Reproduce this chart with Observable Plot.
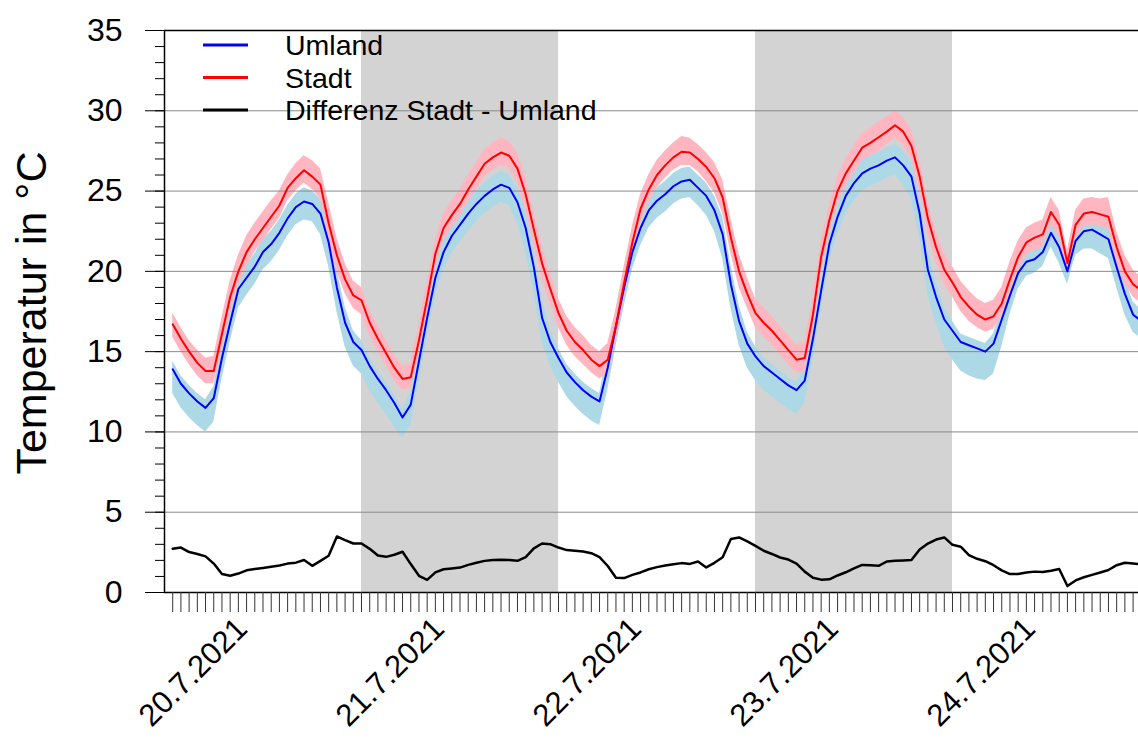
<!DOCTYPE html>
<html><head><meta charset="utf-8">
<script src="https://cdn.jsdelivr.net/npm/d3@7"></script>
<script src="https://cdn.jsdelivr.net/npm/@observablehq/plot@0.6"></script>
<style>
body{margin:0;background:#fff;font-family:"Liberation Sans",Arial,sans-serif;}
#wrap{position:relative;width:1138px;height:741px;overflow:hidden;}
#ylab{position:absolute;left:31px;top:313px;transform:translate(-50%,-50%) rotate(-90deg);font-size:43px;white-space:nowrap;color:#000;}
#legend{position:absolute;left:0;top:0;}
</style></head><body><div id="wrap"></div>
<script>
// time: hourly values starting 20.7.2021 01:00 (UTC used as local clock)
const startTime = Date.UTC(2021, 6, 20, 0);
const firstHour = 1;
const domainEndHours = 118.66;

const umland = [13.9,13.0,12.4,11.9,11.5,12.1,14.6,16.8,18.9,19.6,
 20.3,21.2,21.7,22.4,23.3,24.0,24.35,24.2,23.6,21.8,
 19.0,16.8,15.6,15.1,14.1,13.3,12.6,11.8,10.9,11.7,
 14.4,17.1,19.6,21.2,22.2,22.9,23.6,24.2,24.7,25.1,
 25.4,25.2,24.3,22.7,20.25,17.1,15.6,14.6,13.7,13.1,
 12.6,12.2,11.9,14.0,16.6,19.0,21.2,22.7,23.8,24.4,
 24.8,25.3,25.6,25.7,25.2,24.7,23.8,22.3,19.2,16.9,
 15.5,14.7,14.1,13.7,13.3,12.9,12.6,13.2,15.8,18.8,
 21.7,23.4,24.7,25.5,26.1,26.4,26.6,26.9,27.1,26.6,
 25.9,23.6,20.1,18.4,17.0,16.3,15.6,15.4,15.2,15.0,
 15.5,17.0,18.5,19.9,20.6,20.75,21.2,22.4,21.5,20.0,
 21.9,22.5,22.6,22.3,22.0,20.25,18.6,17.3,16.9];
const umlandLo = [12.4,11.5,10.9,10.4,10.0,10.6,13.3,15.6,17.7,18.5,
 19.2,20.1,20.6,21.3,22.2,22.9,23.2,23.1,22.3,20.3,
 17.5,15.3,14.1,13.6,12.6,11.8,11.1,10.3,9.6,10.4,
 13.1,15.9,18.5,20.1,21.1,21.8,22.5,23.1,23.6,24.0,
 24.3,24.1,23.0,21.2,18.7,15.6,14.1,13.1,12.2,11.6,
 11.1,10.7,10.4,12.6,15.3,17.8,20.1,21.6,22.7,23.3,
 23.7,24.2,24.5,24.6,24.1,23.5,22.5,20.8,17.7,15.4,
 14.0,13.2,12.6,12.2,11.8,11.4,11.1,11.8,14.5,17.6,
 20.6,22.3,23.6,24.4,25.0,25.3,25.5,25.8,26.0,25.4,
 24.5,22.1,18.5,16.8,15.3,14.5,13.8,13.5,13.3,13.2,
 13.6,15.3,17.3,18.9,19.7,19.9,20.3,21.5,20.5,19.2,
 21.0,21.4,21.4,21.1,20.8,19.0,17.3,16.2,15.8];
const umlandHi = [14.4,13.5,12.9,12.4,12.0,12.8,15.6,17.8,19.8,20.4,
 21.1,22.0,22.5,23.2,24.1,24.8,25.2,25.0,24.5,22.9,
 20.1,17.8,16.3,15.7,14.6,13.8,13.1,12.3,11.4,12.5,
 15.4,18.1,20.5,22.0,23.0,23.7,24.4,25.0,25.5,25.9,
 26.2,26.0,25.2,23.8,21.4,18.2,16.4,15.2,14.2,13.6,
 13.1,12.7,12.4,14.9,17.6,19.9,22.0,23.5,24.6,25.2,
 25.6,26.1,26.4,26.5,26.0,25.5,24.7,23.4,20.4,17.9,
 16.2,15.3,14.6,14.2,13.8,13.4,13.1,14.0,16.8,19.8,
 22.6,24.2,25.5,26.3,26.9,27.2,27.4,27.7,27.9,27.5,
 26.9,24.7,21.3,19.3,17.7,16.9,16.1,15.9,15.7,15.5,
 16.1,17.8,19.3,20.6,21.2,21.4,21.9,23.1,22.3,20.8,
 22.6,23.2,23.3,23.0,22.8,21.2,19.5,18.1,17.6];

const stadt = [16.7,15.8,15.0,14.3,13.8,13.8,16.1,18.4,20.0,21.2,
 22.0,22.7,23.4,24.1,25.2,25.8,26.3,25.9,25.4,23.0,
 21.0,19.5,18.5,18.2,16.8,15.8,14.9,14.0,13.3,13.4,
 15.7,18.3,21.1,22.7,23.5,24.2,25.1,25.9,26.7,27.1,
 27.4,27.2,26.4,24.8,22.6,20.5,18.9,17.4,16.3,15.6,
 15.1,14.5,14.1,14.5,16.6,19.3,21.8,23.9,25.1,26.0,
 26.6,27.1,27.45,27.4,27.0,26.5,25.8,24.6,22.1,20.0,
 18.6,17.4,16.8,16.3,15.7,15.1,14.5,14.6,17.3,20.9,
 23.2,25.0,26.1,26.9,27.7,28.0,28.35,28.7,29.1,28.7,
 27.8,25.9,23.3,21.5,20.1,19.3,18.4,17.8,17.3,17.0,
 17.2,18.0,19.5,20.9,21.8,22.1,22.3,23.7,22.9,20.5,
 22.9,23.6,23.7,23.55,23.4,21.5,20.0,19.2,18.8];
const stadtLo = [15.9,15.0,14.2,13.5,13.0,13.0,15.1,17.4,19.1,20.3,
 21.2,21.9,22.6,23.3,24.4,25.0,25.5,25.1,24.5,22.0,
 20.0,18.6,17.7,17.3,16.0,15.0,14.1,13.2,12.6,12.7,
 14.8,17.4,20.2,21.9,22.7,23.4,24.3,25.1,25.9,26.3,
 26.6,26.4,25.5,23.8,21.6,19.5,18.0,16.5,15.4,14.7,
 14.2,13.7,13.3,13.6,15.6,18.3,20.9,23.0,24.3,25.2,
 25.8,26.3,26.6,26.6,26.2,25.6,24.9,23.6,21.1,19.0,
 17.7,16.5,15.9,15.4,14.8,14.2,13.7,13.7,16.3,19.9,
 22.3,24.2,25.3,26.1,26.9,27.2,27.5,27.9,28.3,27.9,
 26.9,24.9,22.3,20.5,19.2,18.4,17.5,16.9,16.5,16.2,
 16.4,17.2,18.6,20.0,21.0,21.3,21.5,22.9,22.1,19.8,
 22.1,22.8,22.9,22.8,22.6,20.6,19.2,18.4,18.0];
const stadtHi = [17.4,16.5,15.7,15.1,14.6,14.7,17.1,19.4,21.0,22.2,
 23.0,23.7,24.4,25.0,26.0,26.7,27.2,26.9,26.4,24.3,
 22.1,20.5,19.4,19.0,17.6,16.6,15.7,14.8,14.1,14.3,
 16.7,19.3,22.0,23.6,24.4,25.1,26.0,26.8,27.6,28.0,
 28.3,28.1,27.4,25.9,23.7,21.6,19.9,18.3,17.2,16.5,
 16.0,15.4,15.0,15.5,17.6,20.3,22.8,24.8,26.0,26.9,
 27.5,28.0,28.4,28.3,27.9,27.4,26.8,25.7,23.3,21.1,
 19.6,18.3,17.7,17.2,16.6,16.0,15.4,15.6,18.4,21.9,
 24.1,25.9,27.0,27.8,28.6,28.9,29.3,29.6,30.0,29.6,
 28.8,27.0,24.4,22.5,21.1,20.3,19.4,18.8,18.3,18.0,
 18.2,19.0,20.6,21.9,22.7,23.0,23.2,24.6,23.8,21.3,
 23.8,24.5,24.6,24.5,24.6,22.5,21.0,20.1,19.6];

const differenz = [2.72,2.80,2.52,2.40,2.25,1.80,1.15,1.04,1.18,1.38,
 1.47,1.53,1.60,1.68,1.80,1.86,2.02,1.66,1.97,2.29,
 3.49,3.26,3.05,3.05,2.72,2.30,2.22,2.35,2.54,1.77,
 1.04,0.79,1.25,1.45,1.50,1.55,1.72,1.85,1.97,2.03,
 2.04,2.02,1.97,2.20,2.75,3.05,3.01,2.80,2.64,2.60,
 2.55,2.45,2.20,1.65,0.92,0.90,1.10,1.25,1.45,1.58,
 1.68,1.76,1.83,1.78,1.93,1.56,1.85,2.20,3.33,3.43,
 3.18,2.90,2.60,2.40,2.18,2.05,1.80,1.30,0.92,0.80,
 0.82,1.06,1.26,1.50,1.72,1.70,1.66,1.93,1.98,2.00,
 2.02,2.68,3.05,3.30,3.43,2.97,2.85,2.33,2.10,1.95,
 1.70,1.38,1.15,1.15,1.25,1.30,1.27,1.35,1.46,0.40,
 0.75,0.95,1.10,1.25,1.40,1.70,1.85,1.80,1.75];

const shadedDays = ["2021-07-21", "2021-07-23"];
const labelDays = ["2021-07-20", "2021-07-21", "2021-07-22", "2021-07-23", "2021-07-24"];
const yMajorTicks = [0, 5, 10, 15, 20, 25, 30, 35];
const yGridTicks = [5, 10, 15, 20, 25, 30];
const seriesNames = ["Umland", "Stadt", "Differenz Stadt - Umland"];
const seriesColors = ["#0000ff", "#ff0000", "#000000"];
const yTitle = "Temperatur in °C";

const T = h => new Date(startTime + h * 3600e3);
const dayStart = s => new Date(s + "T00:00:00Z");
const data = umland.map((u, i) => ({
  t: T(firstHour + i), u, s: stadt[i], d: differenz[i],
  uLo: umlandLo[i], uHi: umlandHi[i], sLo: stadtLo[i], sHi: stadtHi[i]
}));
const bands = shadedDays.map(s => ({start: dayStart(s), end: new Date(+dayStart(s) + 24 * 3600e3)}));
const hourTicks = d3.range(firstHour, Math.floor(domainEndHours) + 1).map(T);
const labelTicks = labelDays.map(s => new Date(+dayStart(s) + 12 * 3600e3));
const fmt = d => `${d.getUTCDate()}.${d.getUTCMonth() + 1}.${d.getUTCFullYear()}`;

const chart = Plot.plot({
  width: 1138, height: 741,
  marginLeft: 164, marginRight: 0, marginTop: 30, marginBottom: 149,
  style: {fontFamily: "'Liberation Sans', Arial, sans-serif", fontSize: "32px", background: "#fff", color: "#000"},
  x: {type: "utc", domain: [T(0), T(domainEndHours)]},
  y: {domain: [0, 35]},
  marks: [
    Plot.rect(bands, {x1: "start", x2: "end", fill: "#d3d3d3"}),
    Plot.areaY(data, {x: "t", y1: "uLo", y2: "uHi", fill: "#add8e6", clip: true}),
    Plot.areaY(data, {x: "t", y1: "sLo", y2: "sHi", fill: "#ffb6c1", clip: true}),
    Plot.gridY(yGridTicks, {stroke: "#8a8a8a", strokeOpacity: 1, strokeWidth: 1}),
    Plot.lineY(data, {x: "t", y: "u", stroke: seriesColors[0], strokeWidth: 2, clip: true}),
    Plot.lineY(data, {x: "t", y: "s", stroke: seriesColors[1], strokeWidth: 2, clip: true}),
    Plot.lineY(data, {x: "t", y: "d", stroke: seriesColors[2], strokeWidth: 2.5, clip: true}),
    Plot.ruleY([0, 35], {stroke: "#000", strokeWidth: 1.5}),
    Plot.ruleX([T(0)], {stroke: "#000", strokeWidth: 1.5}),
    Plot.axisY({ticks: yMajorTicks, tickSize: 19, tickPadding: 23, fontSize: 32, label: null}),
    Plot.axisY({ticks: d3.range(0, 36, 1), tickSize: 9, tickFormat: () => "", label: null}),
    Plot.axisX({ticks: hourTicks, tickSize: 20, tickFormat: () => "", label: null, stroke: "#333"}),
    Plot.axisX({ticks: labelTicks, tickSize: 0, tickRotate: -45, tickPadding: 31, dx: -21, fontSize: 31, tickFormat: fmt, label: null})
  ]
});

const wrap = document.getElementById("wrap");
wrap.appendChild(chart);

const yl = document.createElement("div");
yl.id = "ylab";
yl.textContent = yTitle;
wrap.appendChild(yl);

// legend
const ns = "http://www.w3.org/2000/svg";
const lg = document.createElementNS(ns, "svg");
lg.setAttribute("id", "legend");
lg.setAttribute("width", 700);
lg.setAttribute("height", 140);
seriesNames.forEach((name, i) => {
  const cy = 45 + i * 32.5;
  const ln = document.createElementNS(ns, "line");
  ln.setAttribute("x1", 203); ln.setAttribute("x2", 248);
  ln.setAttribute("y1", cy); ln.setAttribute("y2", cy);
  ln.setAttribute("stroke", seriesColors[i]); ln.setAttribute("stroke-width", 3);
  lg.appendChild(ln);
  const tx = document.createElementNS(ns, "text");
  tx.setAttribute("x", 285); tx.setAttribute("y", cy);
  tx.setAttribute("dominant-baseline", "central");
  tx.setAttribute("font-size", 28.5);
  tx.setAttribute("font-family", "'Liberation Sans', Arial, sans-serif");
  tx.textContent = name;
  lg.appendChild(tx);
});
wrap.appendChild(lg);
</script>
</body></html>
